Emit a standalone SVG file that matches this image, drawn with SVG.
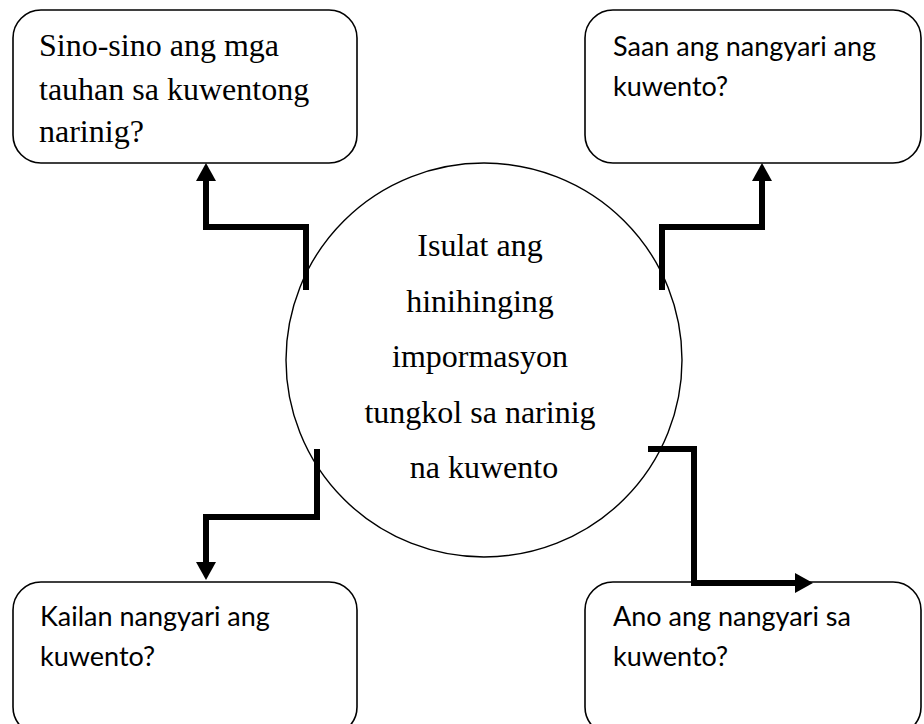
<svg xmlns="http://www.w3.org/2000/svg" width="924" height="724" viewBox="0 0 924 724">
<style>
.box{fill:#fff;stroke:#000;stroke-width:1.6}
.circ{fill:#fff;stroke:#000;stroke-width:1.4}
.serif{font-family:"Liberation Serif","Times New Roman",serif;font-size:32px;fill:#000}
.sans{font-family:Lato,"Liberation Sans",sans-serif;font-size:27px;fill:#000}
.conn{fill:none;stroke:#000;stroke-width:6;stroke-linejoin:miter;stroke-linecap:butt}
</style>
<defs>
<marker id="arr" viewBox="0 0 18 20" markerWidth="18" markerHeight="20" refX="2" refY="10" orient="auto" markerUnits="userSpaceOnUse">
<path d="M0,0 L18,10 L0,20 z" fill="#000"/>
</marker>
</defs>
<rect width="924" height="724" fill="#fff"/>
<g id="center">
<ellipse class="circ" cx="484" cy="360" rx="198" ry="197"/>
<text class="serif" text-anchor="middle">
<tspan x="484" y="256">Isulat ang</tspan>
<tspan x="484" y="312">hinihinging</tspan>
<tspan x="484" y="367">impormasyon</tspan>
<tspan x="484" y="423">tungkol sa narinig</tspan>
<tspan x="484" y="478">na kuwento</tspan>
</text>
</g>
<g id="tauhan">
<rect class="box" x="13" y="10" width="344" height="153" rx="28"/>
<text class="serif">
<tspan x="39" y="56">Sino-sino ang mga</tspan>
<tspan x="39" y="100">tauhan sa kuwentong</tspan>
<tspan x="39" y="142">narinig?</tspan>
</text>
</g>
<g id="saan">
<rect class="box" x="585" y="10" width="336" height="153" rx="28"/>
<text class="sans">
<tspan x="613" y="56">Saan ang nangyari ang</tspan>
<tspan x="613" y="96">kuwento?</tspan>
</text>
</g>
<g id="kailan">
<rect class="box" x="13" y="582" width="344" height="153" rx="28"/>
<text class="sans">
<tspan x="40" y="626">Kailan nangyari ang</tspan>
<tspan x="40" y="666">kuwento?</tspan>
</text>
</g>
<g id="ano">
<rect class="box" x="585" y="582" width="336" height="153" rx="28"/>
<text class="sans">
<tspan x="613" y="626">Ano ang nangyari sa</tspan>
<tspan x="613" y="666">kuwento?</tspan>
</text>
</g>
<g id="connectors">
<path class="conn" d="M306,290 V227 H206 V179" marker-end="url(#arr)"/>
<path class="conn" d="M662,290 V227 H762 V179" marker-end="url(#arr)"/>
<path class="conn" d="M317,449 V517 H206 V564" marker-end="url(#arr)"/>
<path class="conn" d="M648,449 H694 V583 H797" marker-end="url(#arr)"/>
</g>
</svg>
